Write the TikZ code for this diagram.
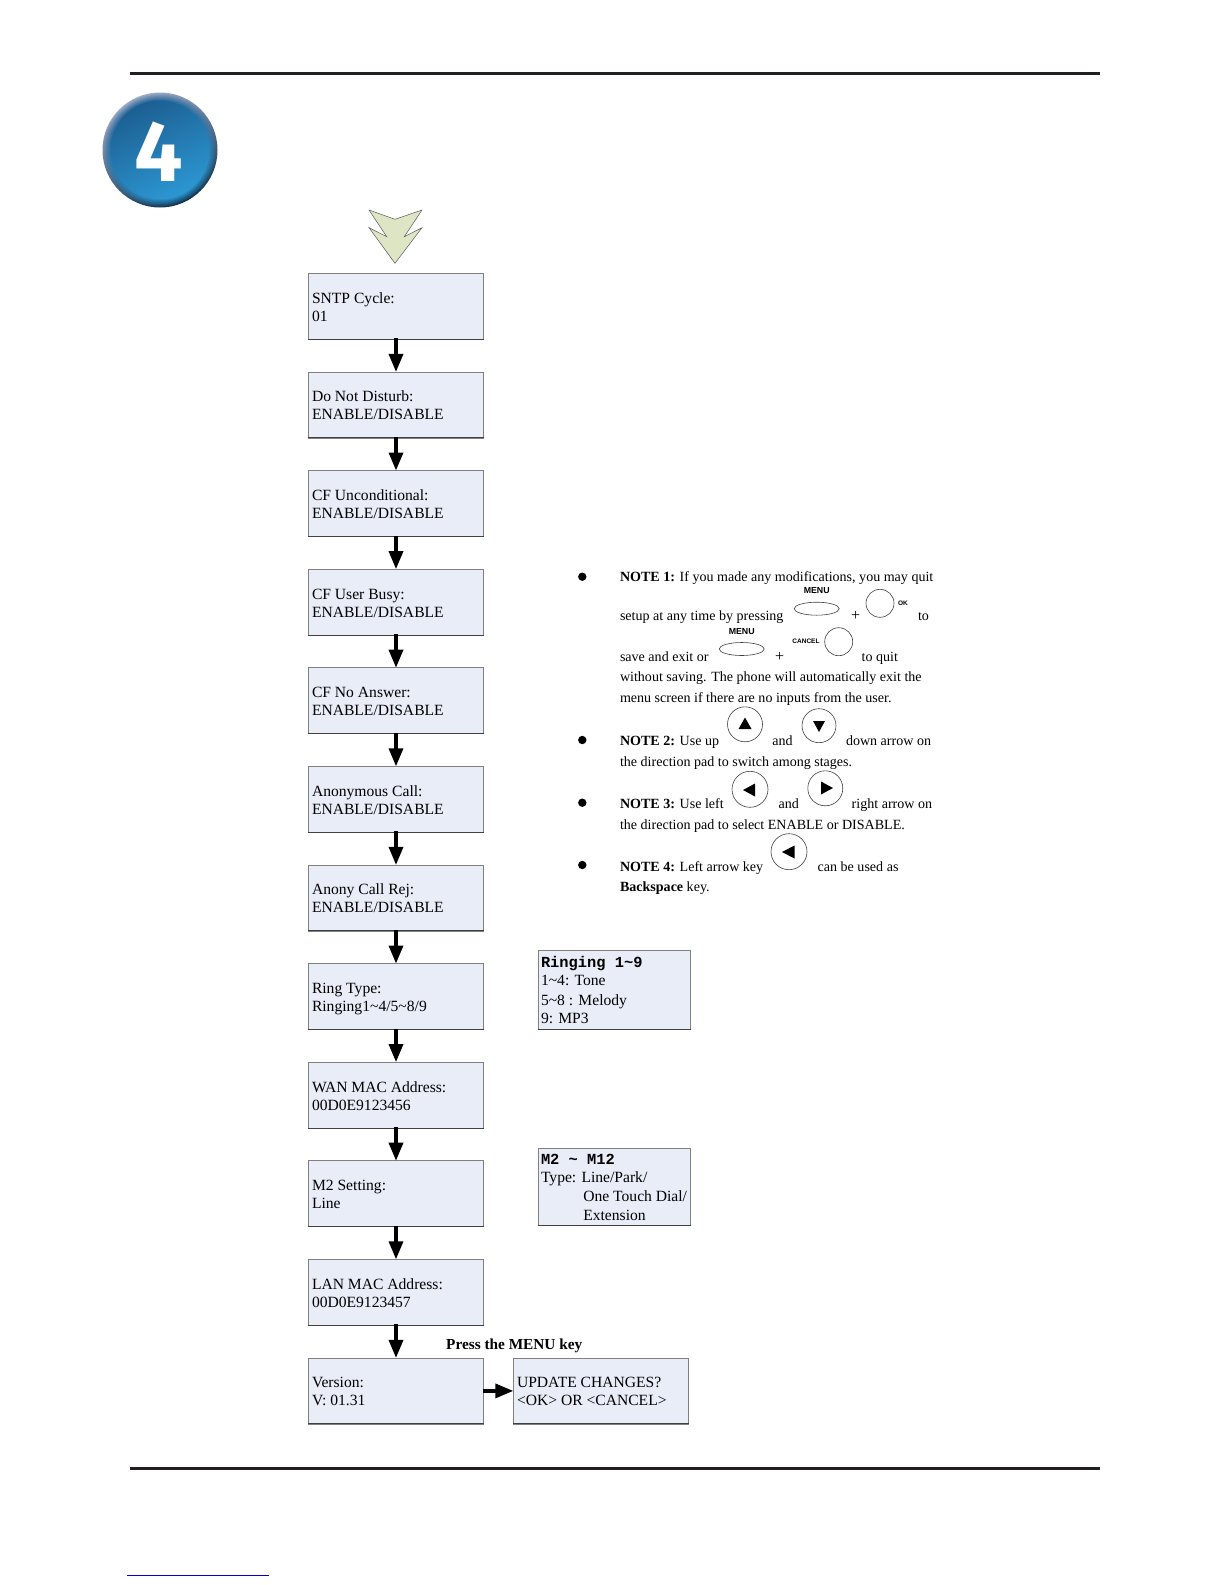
\documentclass[tikz,border=0pt]{standalone}
\usepackage{fontspec}
\setmainfont{Liberation Serif}
\setsansfont{Liberation Sans}
\setmonofont{Liberation Mono}
\newfontfamily\badgefont{Fira Sans}
\usetikzlibrary{arrows.meta}
\definecolor{lcdfill}{HTML}{E9EDF7}
\definecolor{rulecol}{HTML}{231F20}
\definecolor{starfill}{HTML}{DDE5C5}
\definecolor{rimtop}{HTML}{A3AEC9}
\definecolor{rimbot}{HTML}{0F3350}
\definecolor{bluetop}{HTML}{1C5F92}
\definecolor{bluebot}{HTML}{2C97D2}
\newcommand{\lcdline}[3]{\vskip #1pt\moveright #2pt\hbox{\smash{#3}}}
\newcommand{\lcdscr}[3]{\vbox to #2pt{\hsize=#1pt\offinterlineskip\parindent=0pt \hbox to #1pt{}#3\vfil}}
\newcommand{\lcdtwo}[2]{\lcdscr{175.4}{66}{\lcdline{30}{3.7}{#1}\lcdline{18}{3.7}{#2}}}
\newcommand{\lcdmono}[1]{{\ttfamily\bfseries\fontsize{15.4}{18}\selectfont #1}}
\tikzset{
  lcd/.style={draw=black!50,line width=0.8pt,fill=lcdfill,inner sep=0pt,outer sep=0pt,anchor=north west,font=\fontsize{15.6}{18}\selectfont},
  conn/.style={line width=3.4pt,draw=black,-{Triangle[length=18pt,width=14pt]},shorten <=-1pt},
  rulebar/.style={line width=3pt,draw=rulecol},
  notetext/.style={anchor=base west,inner sep=0pt,outer sep=0pt,font=\fontsize{14.05}{17}\selectfont},
  btn/.style={draw=black!75,line width=0.6pt},
  tri/.style={fill=black},
  dot/.style={fill=black},
  keylab/.style={inner sep=0pt,font=\sffamily\bfseries\fontsize{8.8}{10}\selectfont},
  keysmall/.style={inner sep=0pt,font=\sffamily\bfseries\fontsize{6.5}{8}\selectfont},
  boxedge/.style={draw=black!75,line width=1pt}
}
\begin{document}
\begin{tikzpicture}[x=1pt,y=-1pt]
\useasboundingbox (0,0) rectangle (1225,1585);
\fill[white] (0,0) rectangle (1225,1585);
% page rules
\draw[rulebar] (130,73.5) -- (1099.5,73.5);
\draw[rulebar] (130,1468) -- (1099.5,1468);
\draw[draw=blue!80!black,line width=1.2pt] (127,1575.5) -- (269,1575.5);
% badge
\shade[top color=rimtop,bottom color=rimbot,shading angle=25] (160,150) circle (57.5);
\foreach \r/\p in {56.5/12,55.5/25,54.5/38,53.5/50,52.5/62,51.5/74,50.5/86,49.5/100}{
  \shade[top color=bluetop!\p!rimtop,bottom color=bluebot!\p!rimbot,shading angle=25] (160,150) circle (\r);
}
\node[inner sep=0pt,text=white,font=\badgefont\bfseries\fontsize{86}{86}\selectfont] (badge) at (158.5,152) {4};
% star arrow
\draw[fill=starfill,draw=black!65,line width=0.5pt]
  (369,210) -- (395,219.3) -- (422,210) -- (404.3,236.7) -- (422,227.7) -- (395,263.3)
  -- (369,227.7) -- (386.7,236.7) -- cycle;
% main boxes
\foreach \n/\t/\a/\b in {
 b1/273.3/SNTP Cycle:/01,
 b2/371.9/Do Not Disturb:/ENABLE{/}DISABLE,
 b3/470.5/CF Unconditional:/ENABLE{/}DISABLE,
 b4/569.1/CF User Busy:/ENABLE{/}DISABLE,
 b5/667.7/CF No Answer:/ENABLE{/}DISABLE,
 b6/766.3/Anonymous Call:/ENABLE{/}DISABLE,
 b7/864.9/Anony Call Rej:/ENABLE{/}DISABLE,
 b8/963.5/Ring Type:/Ringing1\textasciitilde 4{/}5\textasciitilde 8{/}9,
 b9/1062.1/WAN MAC Address:/00D0E9123456,
 b10/1160.7/M2 Setting:/Line,
 b11/1259.3/LAN MAC Address:/00D0E9123457,
 b12/1357.9/Version:/V: 01.31}{
  \node[lcd] (\n) at (308.3,\t) {\lcdtwo{\a}{\b}};
}
\node[lcd] (upd) at (513.3,1357.9) {\lcdtwo{UPDATE CHANGES?}{<OK> OR <CANCEL>}};
\node[lcd] (ring) at (538.3,950.7) {\lcdscr{152.4}{79}{\lcdline{16.6}{2.7}{\lcdmono{Ringing 1\textasciitilde 9}}\lcdline{18.4}{2.7}{1\textasciitilde 4: Tone}\lcdline{19.3}{2.7}{5\textasciitilde 8 : Melody}\lcdline{18}{2.7}{9: MP3}}};
\node[lcd] (m2) at (538.3,1148.3) {\lcdscr{152.4}{77}{\lcdline{15.7}{2.7}{\lcdmono{M2 \textasciitilde\ M12}}\lcdline{18.3}{2.7}{Type: Line/Park/}\lcdline{19.4}{45}{One Touch Dial/}\lcdline{18.3}{45}{Extension}}};
\foreach \n in {b1,b2,b3,b4,b5,b6,b7,b8,b9,b10,b11,b12,upd,ring,m2}{
  \draw[boxedge] (\n.south west) -- (\n.south east);
}
% connectors
\foreach \p/\q in {b1/b2,b2/b3,b3/b4,b4/b5,b5/b6,b6/b7,b7/b8,b8/b9,b9/b10,b10/b11,b11/b12}{
  \draw[conn] (\p) -- (\q);
}
\draw[conn] (b12) -- (upd);
\node[anchor=base west,inner sep=0pt,font=\bfseries\fontsize{15.3}{17}\selectfont] (press) at (446,1349.3) {Press the MENU key};
% notes: bullets
\foreach \y in {576.7,740,802.7,865}{ \fill[dot] (582.3,\y) circle (4.2); }
% note 1
\node[notetext] (n1a) at (620,581.7) {\textbf{NOTE 1:} If you made any modifications, you may quit};
\node[notetext] (n1b) at (620,620) {setup at any time by pressing};
\node[notetext] (n1c) at (851,620) {\fontsize{16}{17}\selectfont +};
\node[notetext] (n1d) at (918,620) {to};
\node[notetext] (n1e) at (620,661) {save and exit or};
\node[notetext] (n1f) at (775,661) {\fontsize{16}{17}\selectfont +};
\node[notetext] (n1g) at (861.7,661) {to quit};
\node[notetext] (n1h) at (620,681) {without saving. The phone will automatically exit the};
\node[notetext] (n1i) at (620,702) {menu screen if there are no inputs from the user.};
\node[keylab] (k1) at (816.7,590.7) {MENU};
\node[keylab] (k2) at (741.7,631.7) {MENU};
\node[keysmall] (k3) at (903,603.3) {OK};
\node[keysmall] (k4) at (806,641) {CANCEL};
\draw[btn] (816.7,608.7) ellipse (22.5 and 6.5);
\draw[btn] (741.7,649) ellipse (22.5 and 6.5);
\draw[btn] (880,603.3) circle (14);
\draw[btn] (838.7,641.7) circle (14);
% note 2
\node[notetext] (n2a) at (620,745.7) {\textbf{NOTE 2:} Use up};
\node[notetext] (n2b) at (772.3,745.7) {and};
\node[notetext] (n2c) at (846,745.7) {down arrow on};
\node[notetext] (n2d) at (620,766) {the direction pad to switch among stages.};
\draw[btn] (745,724.3) circle (17.5);
\draw[btn] (819,725.7) circle (17);
\fill[tri] (745,717.5) -- (751.5,729) -- (738.5,729) -- cycle;
\fill[tri] (819,732) -- (813,721) -- (825,721) -- cycle;
% note 3
\node[notetext] (n3a) at (620,808.3) {\textbf{NOTE 3:} Use left};
\node[notetext] (n3b) at (778.7,808.3) {and};
\node[notetext] (n3c) at (851.7,808.3) {right arrow on};
\node[notetext] (n3d) at (620,829.3) {the direction pad to select ENABLE or DISABLE.};
\draw[btn] (750,789.3) circle (18);
\draw[btn] (825.3,788.3) circle (17.5);
\fill[tri] (743,790) -- (755,783.5) -- (755,796.5) -- cycle;
\fill[tri] (833,788) -- (821,781.5) -- (821,794.5) -- cycle;
% note 4
\node[notetext] (n4a) at (620,871) {\textbf{NOTE 4:} Left arrow key};
\node[notetext] (n4b) at (817.7,871) {can be used as};
\node[notetext] (n4c) at (620,891.7) {\textbf{Backspace} key.};
\draw[btn] (789,851.7) circle (18);
\fill[tri] (782,852) -- (794.5,845.5) -- (794.5,858.5) -- cycle;
\end{tikzpicture}
\end{document}
